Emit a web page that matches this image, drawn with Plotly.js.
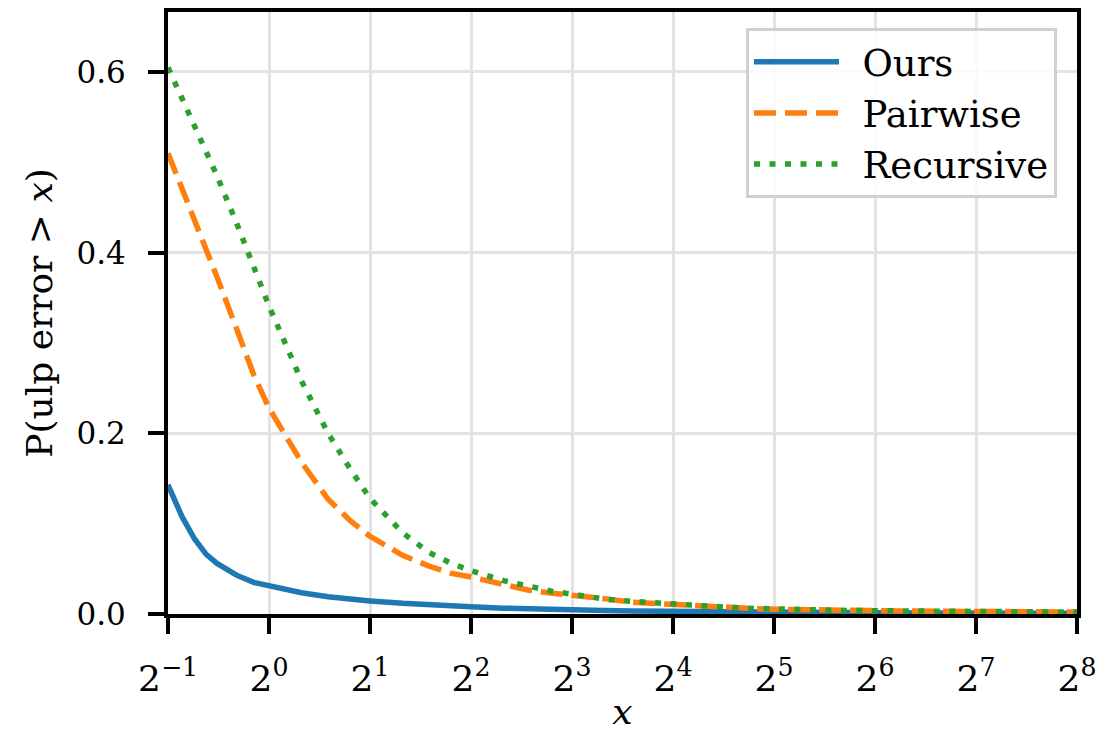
<!DOCTYPE html>
<html>
<head>
<meta charset="utf-8">
<script src="https://cdn.plot.ly/plotly-3.0.1.min.js"></script>
<style>html,body{margin:0;padding:0;background:#fff;}#chart{width:1119px;height:734px;}</style>
</head>
<body>
<div id="chart"></div>
<script>
// x values (ulp error thresholds)
const xVals = [0.5, 0.55, 0.6, 0.65, 0.7, 0.8, 0.9, 1.0, 1.25, 1.5, 1.75, 2, 2.5, 3, 3.5, 4, 5, 6, 7, 8, 10, 12, 14, 16, 20, 24, 28, 32, 48, 64, 96, 128, 192, 256];
const oursVals = [0.143, 0.108, 0.083, 0.066, 0.056, 0.043, 0.035, 0.031, 0.0235, 0.019, 0.0163, 0.0145, 0.0118, 0.0100, 0.0088, 0.0080, 0.0065, 0.0055, 0.0048, 0.0044, 0.0038, 0.0033, 0.0030, 0.0028, 0.0025, 0.0022, 0.0020, 0.0018, 0.0015, 0.0013, 0.0011, 0.0010, 0.0009, 0.0008];
const pairwiseVals = [0.510, 0.472, 0.437, 0.404, 0.373, 0.316, 0.265, 0.228, 0.168, 0.127, 0.103, 0.086, 0.065, 0.053, 0.045, 0.041, 0.032, 0.026, 0.023, 0.021, 0.017, 0.013, 0.0115, 0.0105, 0.0085, 0.0070, 0.0060, 0.0052, 0.0040, 0.0035, 0.0030, 0.0028, 0.0025, 0.0022];
const recursiveVals = [0.605, 0.571, 0.540, 0.512, 0.485, 0.433, 0.386, 0.341, 0.258, 0.200, 0.160, 0.128, 0.090, 0.068, 0.056, 0.048, 0.037, 0.030, 0.025, 0.022, 0.0165, 0.0140, 0.0122, 0.0110, 0.0088, 0.0072, 0.0062, 0.0055, 0.0042, 0.0036, 0.0030, 0.0027, 0.0024, 0.0021];
const seriesNames = ["Ours", "Pairwise", "Recursive"];
const xTickVals = [0.5, 1, 2, 4, 8, 16, 32, 64, 128, 256];
const xTickText = ["2<sup>\u22121</sup>", "2<sup>0</sup>", "2<sup>1</sup>", "2<sup>2</sup>", "2<sup>3</sup>", "2<sup>4</sup>", "2<sup>5</sup>", "2<sup>6</sup>", "2<sup>7</sup>", "2<sup>8</sup>"];
const yTickVals = [0, 0.2, 0.4, 0.6];
const yTickText = ["0.0", "0.2", "0.4", "0.6"];

const FONT = "DejaVu Serif";

const traces = [
  {x: xVals, y: oursVals, name: "\u2002" + seriesNames[0], mode: "lines",
   line: {color: "#1f77b4", width: 5.5}},
  {x: xVals, y: pairwiseVals, name: "\u2002" + seriesNames[1], mode: "lines",
   line: {color: "#ff7f0e", width: 5.5, dash: "22px,9px"}},
  {x: xVals, y: recursiveVals, name: "\u2002" + seriesNames[2], mode: "lines",
   line: {color: "#2ca02c", width: 5.5, dash: "6px,9.5px"}}
];

const layout = {
  width: 1119, height: 734,
  margin: {l: 168, r: 42, t: 12, b: 120},
  paper_bgcolor: "#fff", plot_bgcolor: "#fff",
  font: {family: FONT, color: "#000", size: 31},
  showlegend: true,
  legend: {
    x: 0.978, y: 0.973, xanchor: "right", yanchor: "top",
    bgcolor: "rgba(255,255,255,0.8)", bordercolor: "#d0d0d0", borderwidth: 3,
    font: {family: FONT, size: 37, color: "#000"},
    itemwidth: 85
  },
  xaxis: {
    type: "log",
    range: [Math.log10(0.5), Math.log10(256)],
    tickvals: xTickVals, ticktext: xTickText,
    showline: true, mirror: true, linecolor: "#000", linewidth: 4,
    ticks: "outside", ticklen: 16, tickwidth: 4, tickcolor: "#000",
    ticklabelstandoff: 14,
    showgrid: true, gridcolor: "#e3e3e3", gridwidth: 3,
    zeroline: false,
    tickfont: {family: FONT, size: 36},
    title: {text: "<i>x</i>", font: {family: FONT, size: 36}, standoff: 2}
  },
  yaxis: {
    range: [0, 0.6664],
    tickvals: yTickVals, ticktext: yTickText,
    showline: true, mirror: true, linecolor: "#000", linewidth: 4,
    ticks: "outside", ticklen: 16, tickwidth: 4, tickcolor: "#000",
    ticklabelstandoff: 16,
    showgrid: true, gridcolor: "#e3e3e3", gridwidth: 3,
    zeroline: false,
    tickfont: {family: FONT, size: 31},
    title: {text: "P(ulp error &gt; <i>x</i>)", font: {family: FONT, size: 36}, standoff: 14}
  }
};

Plotly.newPlot("chart", traces, layout, {displayModeBar: false, staticPlot: true});
</script>
</body>
</html>
